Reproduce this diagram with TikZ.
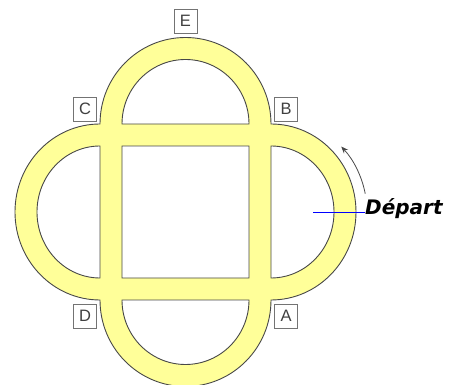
\documentclass[tikz,border=0pt]{standalone}
\usepackage{fontspec}
\setmainfont{Liberation Sans}
\newfontfamily\depfont{DejaVu Sans}
\usetikzlibrary{arrows.meta}
\definecolor{track}{HTML}{FFFF99}
\definecolor{edge}{HTML}{484848}
\begin{document}
\begin{tikzpicture}[x=1pt,y=1pt,
  lbl/.style={draw=black!55, fill=white, line width=0.8pt, minimum width=23pt, minimum height=24pt, inner sep=0pt, text=black!75, font=\fontsize{16.5}{16.5}\selectfont},
  trackedge/.style={draw=edge, line width=0.9pt}]
\useasboundingbox (0,0) rectangle (455,385);
\path[fill=track, even odd rule, trackedge]
  (271,261) arc[start angle=0,end angle=180,x radius=85.5,y radius=86.5]
  arc[start angle=90,end angle=270,x radius=85,y radius=88]
  arc[start angle=180,end angle=360,x radius=85.5,y radius=86.5]
  arc[start angle=-90,end angle=90,x radius=85,y radius=88] -- cycle
  (249,261) arc[start angle=0,end angle=180,x radius=63.5,y radius=64.5] -- cycle
  (100,239) arc[start angle=90,end angle=270,x radius=63,y radius=66] -- cycle
  (122,85) arc[start angle=180,end angle=360,x radius=63.5,y radius=64.5] -- cycle
  (271,107) arc[start angle=-90,end angle=90,x radius=63,y radius=66] -- cycle
  (122,107) rectangle (249,239);
\node[lbl] (E) at (185.5,364) {E};
\node[lbl] (C) at (85,276) {C};
\node[lbl] (B) at (286,276) {B};
\node[lbl] (D) at (85,69) {D};
\node[lbl] (A) at (286,69) {A};
\node[anchor=base west, inner sep=0pt, font=\depfont\bfseries\itshape\fontsize{20}{20}\selectfont] (dep) at (365,170) {Départ};
\coordinate (bl) at (313,173);
\draw[blue, line width=0.8pt] (bl) -- (bl -| dep.west);
\coordinate (ac) at (271,173);
\draw[edge, line width=0.8pt, -{Stealth[length=7pt,width=5.5pt]}] ([shift={(11:96)}]ac) arc[start angle=11,end angle=43,radius=96];
\end{tikzpicture}
\end{document}
